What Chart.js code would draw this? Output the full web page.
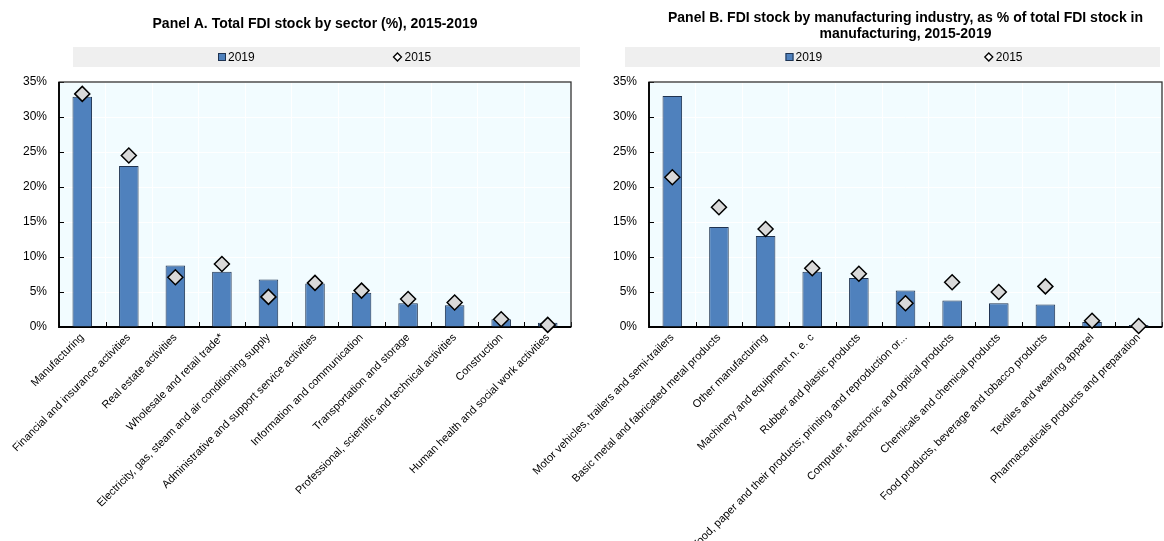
<!DOCTYPE html>
<html>
<head>
<meta charset="utf-8">
<script src="https://cdn.jsdelivr.net/npm/chart.js@4"></script>
<style>
  body { margin: 0; background: #fff; }
  #wrap { position: relative; width: 1164px; height: 541px; overflow: hidden; }
  canvas { position: absolute; top: 0; }
</style>
</head>
<body>
<div id="wrap">
  <canvas id="chartA" width="600" height="541" style="left:0px"></canvas>
  <canvas id="chartB" width="700" height="541" style="left:480px"></canvas>
</div>
<script>
// Panel A - sectors
const sectorLabels = [
  'Manufacturing',
  'Financial and insurance activities',
  'Real estate activities',
  'Wholesale and retail trade*',
  'Electricity, gas, steam and air conditioning supply',
  'Administrative and support service activities',
  'Information and communication',
  'Transportation and storage',
  'Professional, scientific and technical activities',
  'Construction',
  'Human health and social work activities'
]
const sector2019 = [32.9, 23.0, 8.8, 7.9, 6.8, 6.2, 4.9, 3.4, 3.1, 1.1, 0.6]
const sector2015 = [33.3, 24.5, 7.1, 9.0, 4.3, 6.3, 5.2, 4.0, 3.5, 1.1, 0.3]

// Panel B - manufacturing industries
const industryLabels = [
  'Motor vehicles, trailers and semi-trailers',
  'Basic metal and fabricated metal products',
  'Other manufacturing',
  'Machinery and equipment n. e. c',
  'Rubber and plastic products',
  'Wood, paper and their products; printing and reproduction or...',
  'Computer, electronic and optical products',
  'Chemicals and chemical products',
  'Food products, beverage and tobacco products',
  'Textiles and wearing apparel',
  'Pharmaceuticals products and preparation'
]
const industry2019 = [33.0, 14.3, 13.0, 7.9, 7.0, 5.2, 3.8, 3.4, 3.2, 0.7, 0.3]
const industry2015 = [21.4, 17.1, 14.0, 8.4, 7.6, 3.4, 6.4, 5.0, 5.8, 0.9, 0.15]

const yTickValues = [0, 5, 10, 15, 20, 25, 30, 35]

const FONT = "'Liberation Sans Narrow', 'Arial Narrow', 'Liberation Sans', Arial, sans-serif"
Chart.defaults.font.family = FONT
Chart.defaults.color = '#000'

// background, legend band, frame and inside ticks
const panelDecor = {
  id: 'panelDecor',
  beforeDraw(chart, args, opts) {
    const ctx = chart.ctx
    const a = chart.chartArea
    ctx.save()
    ctx.fillStyle = '#f2fcff'
    ctx.fillRect(a.left, a.top, a.right - a.left, a.bottom - a.top)

    const bx1 = a.left + opts.bandLeft
    const bx2 = a.right + opts.bandRight
    ctx.fillStyle = '#efefef'
    ctx.fillRect(bx1, opts.bandTop, bx2 - bx1, opts.bandHeight)

    const cy = opts.bandTop + opts.bandHeight / 2
    const ds = chart.data.datasets
    ctx.font = '12px ' + FONT
    ctx.textBaseline = 'middle'
    ctx.textAlign = 'left'
    // bar entry
    let x = bx1 + (bx2 - bx1) * opts.itemPos[0]
    ctx.fillStyle = ds[0].backgroundColor
    ctx.strokeStyle = ds[0].borderColor
    ctx.lineWidth = 1
    ctx.fillRect(x, cy - 4, 8, 8)
    ctx.strokeRect(x + 0.5, cy - 3.5, 7, 7)
    ctx.fillStyle = '#000'
    ctx.fillText(ds[0].label, x + 10, cy + 1)
    // marker entry
    x = bx1 + (bx2 - bx1) * opts.itemPos[1]
    ctx.beginPath()
    ctx.moveTo(x, cy - 4)
    ctx.lineTo(x + 4, cy)
    ctx.lineTo(x, cy + 4)
    ctx.lineTo(x - 4, cy)
    ctx.closePath()
    ctx.fillStyle = '#fff'
    ctx.fill()
    ctx.strokeStyle = '#000'
    ctx.lineWidth = 1.3
    ctx.stroke()
    ctx.fillStyle = '#000'
    ctx.fillText(ds[1].label, x + 7, cy + 1)
    ctx.restore()
  },
  beforeDatasetsDraw(chart) {
    const ctx = chart.ctx
    const a = chart.chartArea
    const xs = chart.scales.x
    const ys = chart.scales.y
    ctx.save()
    ctx.strokeStyle = '#000'
    ctx.lineWidth = 1
    ctx.beginPath()
    for (let i = 0; i <= xs.ticks.length; i++) {
      const px = Math.round(xs.getPixelForValue(i - 0.5)) + 0.5
      ctx.moveTo(px, a.bottom)
      ctx.lineTo(px, a.bottom - 5)
    }
    ys.ticks.forEach(t => {
      const py = Math.round(ys.getPixelForValue(t.value)) + 0.5
      ctx.moveTo(a.left, py)
      ctx.lineTo(a.left + 5, py)
    })
    ctx.stroke()
    ctx.strokeStyle = '#333'
    ctx.lineWidth = 1.3
    ctx.strokeRect(a.left, a.top, a.right - a.left, a.bottom - a.top)
    ctx.strokeStyle = '#000'
    ctx.lineWidth = 1.8
    ctx.beginPath()
    ctx.moveTo(a.left, a.top)
    ctx.lineTo(a.left, a.bottom)
    ctx.lineTo(a.right, a.bottom)
    ctx.stroke()
    ctx.restore()
  }
}

function makePanel(canvasId, labels, bars, marks, title, cfg) {
  return new Chart(document.getElementById(canvasId), {
    type: 'bar',
    data: {
      labels: labels,
      datasets: [
        {
          label: '2019',
          data: bars,
          backgroundColor: '#4f81bd',
          borderColor: '#1f3350',
          borderWidth: 1,
          barPercentage: 0.42,
          categoryPercentage: 1,
          order: 2
        },
        {
          type: 'line',
          label: '2015',
          data: marks,
          showLine: false,
          pointStyle: 'rectRot',
          pointRadius: 7.5,
          pointBackgroundColor: '#d9d9d9',
          pointBorderColor: '#000',
          pointBorderWidth: 1.5,
          clip: false,
          order: 1
        }
      ]
    },
    options: {
      responsive: false,
      animation: false,
      devicePixelRatio: 1,
      layout: { padding: { left: cfg.padLeft, right: cfg.padRight, top: 0, bottom: 0 } },
      plugins: {
        legend: { display: false },
        tooltip: { enabled: false },
        title: {
          display: true,
          text: title,
          fullSize: false,
          font: { size: 14, weight: 'bold', lineHeight: cfg.titleLine },
          color: '#000',
          padding: { top: cfg.titleTop, bottom: cfg.titleBottom }
        },
        panelDecor: {
          bandTop: 47,
          bandHeight: 20,
          bandLeft: cfg.bandLeft,
          bandRight: cfg.bandRight,
          itemPos: cfg.itemPos
        }
      },
      scales: {
        x: {
          grid: { offset: true, color: '#ffffff', drawTicks: false },
          border: { display: false },
          ticks: {
            autoSkip: false,
            minRotation: 45,
            maxRotation: 45,
            padding: 4,
            font: { size: 11 }
          },
          afterFit(scale) { scale.height = 214 }
        },
        y: {
          min: 0,
          max: 35,
          grid: { color: '#ffffff', drawTicks: false },
          border: { display: false },
          afterBuildTicks(scale) { scale.ticks = yTickValues.map(v => ({ value: v })) },
          ticks: {
            padding: 12,
            font: { size: 12 },
            callback: v => v + '%'
          },
          afterFit(scale) { scale.width = cfg.yWidth }
        }
      }
    },
    plugins: [panelDecor]
  })
}

makePanel('chartA', sectorLabels, sector2019, sector2015,
  'Panel A. Total FDI stock by sector (%), 2015-2019',
  { padLeft: 0, padRight: 29, yWidth: 59, titleLine: 1.2, titleTop: 16, titleBottom: 49.2,
    bandLeft: 14, bandRight: 9, itemPos: [0.286, 0.64] })

makePanel('chartB', industryLabels, industry2019, industry2015,
  ['Panel B. FDI stock by manufacturing industry, as % of total FDI stock in', 'manufacturing, 2015-2019'],
  { padLeft: 129, padRight: 18, yWidth: 40, titleLine: 16 / 14, titleTop: 10, titleBottom: 40,
    bandLeft: -24, bandRight: -2, itemPos: [0.30, 0.68] })
</script>
</body>
</html>
